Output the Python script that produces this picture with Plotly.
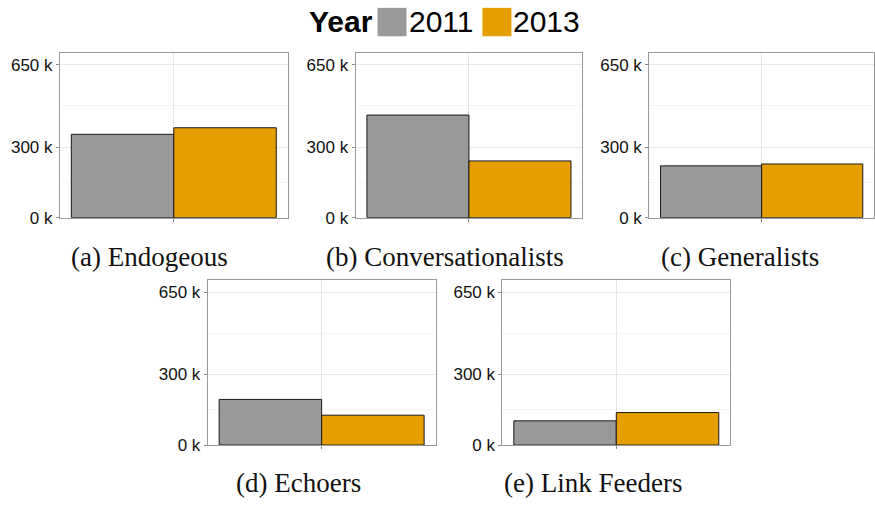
import plotly.graph_objects as go

# Users per group, by year
groups = ["Endogeous", "Conversationalists", "Generalists", "Echoers", "Link Feeders"]
captions = ["(a) Endogeous", "(b) Conversationalists", "(c) Generalists",
            "(d) Echoers", "(e) Link Feeders"]
years = ["2011", "2013"]
users_2011 = [354000, 436000, 220000, 194000, 103000]
users_2013 = [382000, 241000, 228000, 127000, 138000]
year_colors = ["#999999", "#E69F00"]

y_tickvals = [0, 300000, 650000]
y_ticktext = ["0 k", "300 k", "650 k"]
y_minor = [150000, 475000]
y_max = 700000

W, H = 875, 508
# panel boxes in pixels: (left, right, top, bottom)
panels = [(60, 288, 54, 222), (356, 583, 54, 222), (650, 878, 54, 222),
          (208, 436, 286, 454), (503, 731, 286, 454)]
caption_pos = [(150, 262), (446, 262), (741, 262), (299, 493), (594, 493)]

fig = go.Figure()
layout = {}
for i, g in enumerate(groups):
    n = "" if i == 0 else str(i + 1)
    for yr, vals, col in zip(years, [users_2011, users_2013], year_colors):
        fig.add_trace(go.Bar(
            x=[g], y=[vals[i]], name=yr, offsetgroup=yr,
            marker=dict(color=col, line=dict(color="#1a1a1a", width=1)),
            xaxis="x" + n, yaxis="y" + n, showlegend=False,
        ))
    l, r, t, b = panels[i]
    layout["xaxis" + n] = dict(
        domain=[l / W, min(r / W, 1.0)], anchor="y" + n,
        showticklabels=False, ticks="outside", ticklen=3, tickcolor="#888",
        showgrid=True, gridcolor="#e6e6e6", gridwidth=1,
        showline=True, linecolor="#999999", linewidth=1, mirror=True,
        fixedrange=True,
    )
    layout["yaxis" + n] = dict(
        domain=[(H - b) / H, (H - t) / H], anchor="x" + n,
        range=[0, y_max], tickvals=y_tickvals, ticktext=y_ticktext,
        ticks="outside", ticklen=3, tickcolor="#888",
        tickfont=dict(family="Liberation Sans, Arial", size=17, color="#111"),
        showgrid=True, gridcolor="#e8e8e8", gridwidth=1,
        minor=dict(tickvals=y_minor, showgrid=True, gridcolor="#f5f5f5", gridwidth=1),
        showline=True, linecolor="#999999", linewidth=1, mirror=True,
        zeroline=False, fixedrange=True,
    )

annotations = []
for cap, (cx, cy) in zip(captions, caption_pos):
    annotations.append(dict(
        text=cap, x=cx / W, y=(H - cy) / H, xref="paper", yref="paper",
        xanchor="center", yanchor="middle", showarrow=False,
        font=dict(family="Liberation Serif, Times New Roman, serif", size=27, color="#111"),
    ))

# legend drawn at the top: title, swatches and year labels
legend_font = dict(family="Liberation Sans, Arial", size=30, color="#000")
annotations.append(dict(text="<b>Year</b>", x=307 / W, y=(H - 22) / H, xref="paper", yref="paper",
                        xanchor="left", yanchor="middle", showarrow=False, font=legend_font))
shapes = []
swatch_x = [378, 483]
for yr, col, sx in zip(years, year_colors, swatch_x):
    shapes.append(dict(type="rect", xref="paper", yref="paper",
                       x0=sx / W, x1=(sx + 29) / W, y0=(H - 37) / H, y1=(H - 8) / H,
                       fillcolor=col, line=dict(width=0)))
    annotations.append(dict(text=yr, x=(sx + 29) / W, y=(H - 22) / H, xref="paper", yref="paper",
                            xanchor="left", yanchor="middle", showarrow=False, font=legend_font))

fig.update_layout(
    width=W, height=H, margin=dict(l=0, r=0, t=0, b=0),
    paper_bgcolor="white", plot_bgcolor="white",
    barmode="group", bargap=0.1, bargroupgap=0,
    annotations=annotations, shapes=shapes, showlegend=False,
    **layout,
)

fig.write_html("out.html")
